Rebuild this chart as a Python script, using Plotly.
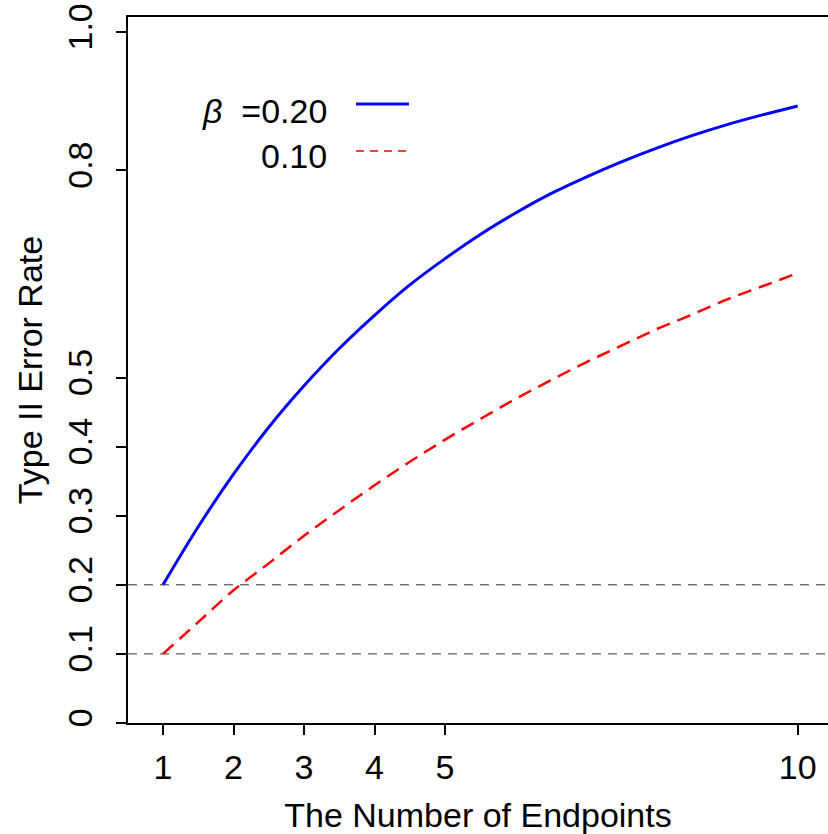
import plotly.graph_objects as go

# Number of endpoints (continuous grid)
endpoints = [1, 1.5, 2, 2.5, 3, 3.5, 4, 4.5, 5, 5.5, 6, 6.5, 7, 7.5, 8, 8.5, 9, 9.5, 10]
# Type II error rate, beta = 0.20 (solid blue)
err_b20 = [0.200, 0.284, 0.360, 0.428, 0.488, 0.542, 0.590, 0.634, 0.672, 0.707,
           0.738, 0.766, 0.790, 0.812, 0.832, 0.850, 0.866, 0.880, 0.893]
# Type II error rate, beta = 0.10 (dashed red)
err_b10 = [0.100, 0.146, 0.192, 0.231, 0.271, 0.308, 0.344, 0.378, 0.410, 0.440,
           0.469, 0.496, 0.522, 0.546, 0.570, 0.591, 0.613, 0.632, 0.651]
# reference levels
ref_levels = [0.1, 0.2]

x_ticks = [1, 2, 3, 4, 5, 10]
y_ticks = [0, 0.1, 0.2, 0.3, 0.4, 0.5, 0.8, 1.0]
y_ticklabels = ["0", "0.1", "0.2", "0.3", "0.4", "0.5", "0.8", "1.0"]

FONT = "Liberation Sans, Arial, Helvetica, sans-serif"
FS = 34

fig = go.Figure()
fig.add_trace(go.Scatter(x=endpoints, y=err_b20, mode="lines",
                         line=dict(color="#0000ff", width=3, shape="spline"),
                         showlegend=False))
fig.add_trace(go.Scatter(x=endpoints, y=err_b10, mode="lines",
                         line=dict(color="#ff0000", width=2.5, dash="14px,8px", shape="spline"),
                         showlegend=False))

for lv in ref_levels:
    fig.add_shape(type="line", xref="paper", x0=0, x1=1, yref="y", y0=lv, y1=lv,
                  line=dict(color="#333333", width=1, dash="9px,7px"), layer="below")

# legend drawn manually (text left, line sample right)
fig.add_annotation(xref="paper", yref="paper", x=(329 - 128) / 700, y=(723 - 111) / 706,
                   text="<i>β</i>\u00a0\u00a0=0.20", showarrow=False, xanchor="right", yanchor="middle",
                   font=dict(family=FONT, size=FS, color="black"))
fig.add_annotation(xref="paper", yref="paper", x=(329 - 128) / 700, y=(723 - 156) / 706,
                   text="0.10", showarrow=False, xanchor="right", yanchor="middle",
                   font=dict(family=FONT, size=FS, color="black"))
fig.add_shape(type="line", xref="paper", yref="paper",
              x0=(356 - 128) / 700, x1=(409 - 128) / 700,
              y0=(723 - 104) / 706, y1=(723 - 104) / 706,
              line=dict(color="#0000ff", width=3))
fig.add_shape(type="line", xref="paper", yref="paper",
              x0=(356 - 128) / 700, x1=(409 - 128) / 700,
              y0=(723 - 151) / 706, y1=(723 - 151) / 706,
              line=dict(color="#ff0000", width=1.5, dash="8px,6px"))

fig.update_layout(
    width=828, height=834,
    margin=dict(l=128, r=0, t=17, b=111),
    paper_bgcolor="white", plot_bgcolor="white",
    font=dict(family=FONT, size=FS, color="black"),
    xaxis=dict(range=[0.504, 10.43], tickvals=x_ticks, ticktext=[str(v) for v in x_ticks],
               showgrid=False, zeroline=False, showline=True, linecolor="black", linewidth=2,
               mirror=True, ticks="outside", ticklen=10, tickwidth=2, tickcolor="black",
               ticklabelstandoff=3, automargin=False,
               title=dict(text="The Number of Endpoints", font=dict(size=FS), standoff=36)),
    yaxis=dict(range=[0, 1.0217], tickvals=y_ticks, ticktext=y_ticklabels, tickangle=-90,
               showgrid=False, zeroline=False, showline=True, linecolor="black", linewidth=2,
               ticks="outside", ticklen=10, tickwidth=2, tickcolor="black",
               ticklabelstandoff=10, automargin=False,
               title=dict(text="Type II Error Rate", font=dict(size=FS), standoff=9)),
)

fig.write_html("out.html", config={"displayModeBar": False},
               post_script="document.body.style.margin='0';document.body.style.overflow='hidden';")
